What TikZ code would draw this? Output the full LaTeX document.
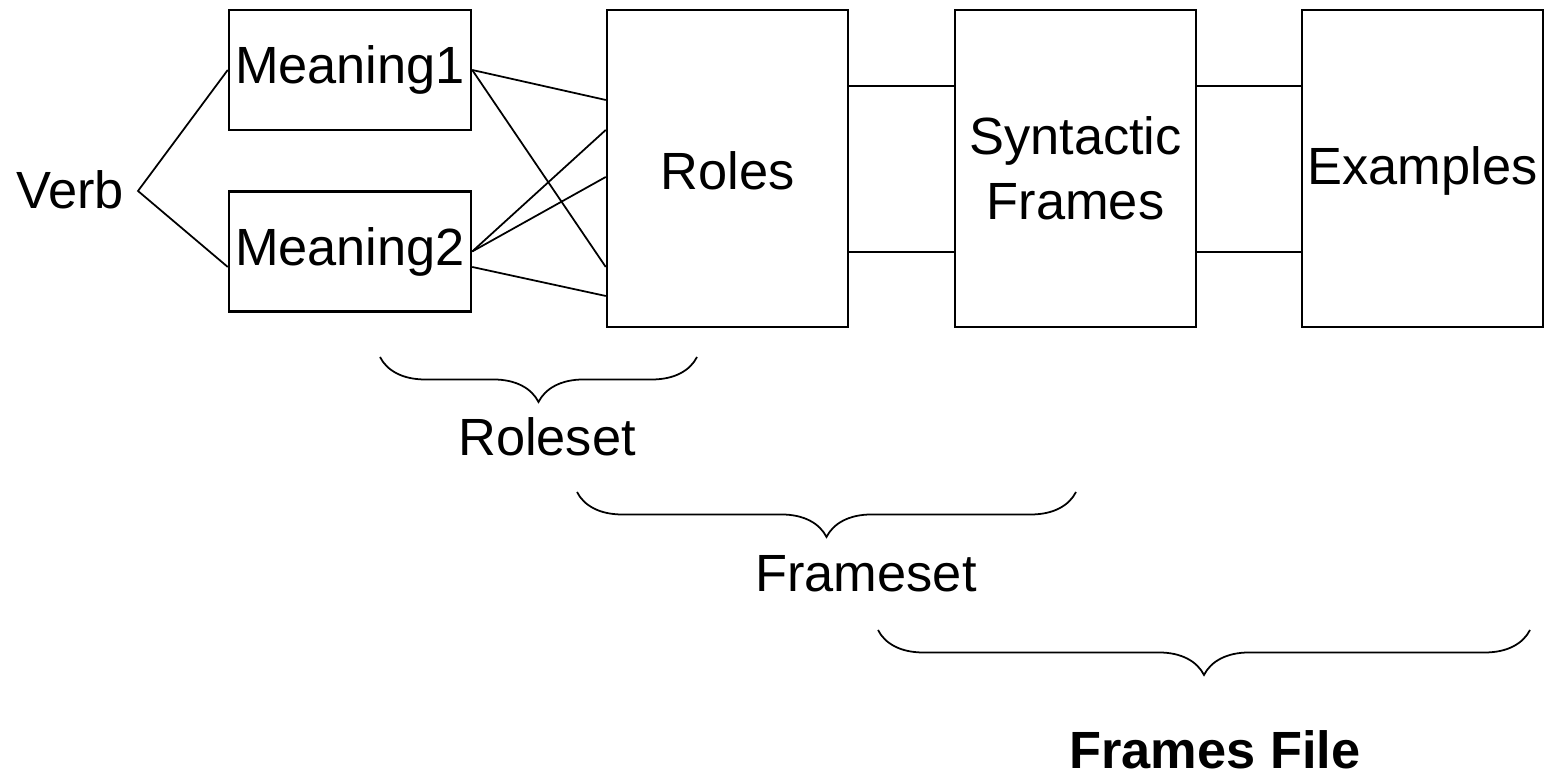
\documentclass[tikz,border=0pt]{standalone}
\usepackage{fontspec}
\setmainfont{Liberation Sans}
\usepackage{tikz}
\usetikzlibrary{positioning, calc, decorations.pathreplacing}

\begin{document}
\begin{tikzpicture}[line width=0.5pt,
    every node/.style={inner sep=1pt, font=\fontsize{14.9}{18.5}\selectfont},
    smallbox/.style={draw, line width=0.7pt, rectangle, minimum width=2.42cm, minimum height=1.2cm},
    tallbox/.style={draw, line width=0.7pt, rectangle, minimum width=2.41cm, minimum height=3.17cm, align=center},
    link/.style={line width=0.5pt},
    span/.style={decorate, decoration={brace, mirror, amplitude=0.45cm}, line width=0.5pt}]
    \useasboundingbox (0, 0) rectangle (15.46, 7.75);

    % Verb and its two meanings
    \node (verb) at (0.70, 5.85) {Verb};
    \coordinate (fork) at (1.38, 5.84);
    \node[smallbox] (m1) at (3.50, 7.05) {Meaning1};
    \node[smallbox] (m2) at (3.50, 5.235) {Meaning2};

    % Roles, frames and examples
    \node[tallbox, text height=0.43cm] (roles) at (7.275, 6.065) {Roles};
    \node[tallbox] (synt) at (10.755, 6.065) {Syntactic\\Frames};
    \node[tallbox, text height=0.43cm] (ex) at (14.225, 6.065) {Examples};

    % Verb to meanings
    \draw[link] (m1.west) -- (fork) -- ([yshift=-1.55mm]m2.west);

    % Meanings to roles
    \draw[link] (m1.east) -- ([yshift=6.85mm]roles.west);
    \draw[link] (m1.east) -- ([yshift=-9.85mm]roles.west);
    \draw[link] (m2.east) -- ([yshift=3.85mm]roles.west);
    \draw[link] (m2.east) -- ([yshift=-0.85mm]roles.west);
    \draw[link] ([yshift=-1.55mm]m2.east) -- ([yshift=-12.75mm]roles.west);

    % Roles to frames to examples
    \draw[link] ([yshift=8.25mm]roles.east) -- ([yshift=8.25mm]synt.west);
    \draw[link] ([yshift=-8.35mm]roles.east) -- ([yshift=-8.35mm]synt.west);
    \draw[link] ([yshift=8.25mm]synt.east) -- ([yshift=8.25mm]ex.west);
    \draw[link] ([yshift=-8.35mm]synt.east) -- ([yshift=-8.35mm]ex.west);

    % Braces
    \draw[span] (3.80, 4.18) -- (6.97, 4.18);
    \node (roleset) at (5.47, 3.38) {Roleset};
    \draw[span] (5.77, 2.83) -- (10.76, 2.83);
    \node (frameset) at (8.66, 2.01) {Frameset};
    \draw[span] (8.78, 1.45) -- (15.30, 1.45);
    \node[inner sep=0pt, font=\fontsize{14.9}{17.5}\selectfont\bfseries] (file) at (12.15, 0.25) {Frames File};
\end{tikzpicture}
\end{document}
